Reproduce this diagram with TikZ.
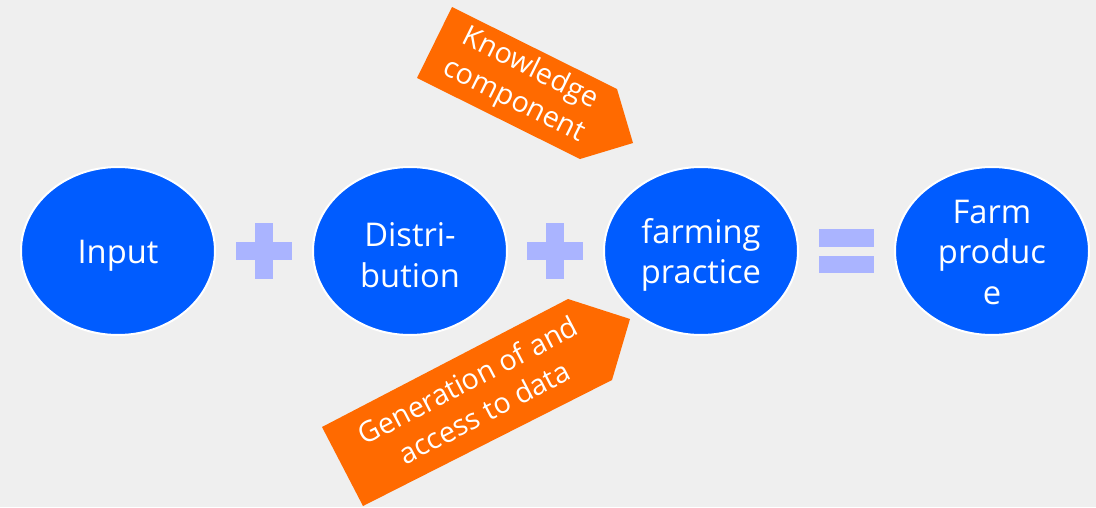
\documentclass[tikz,border=0pt]{standalone}
\usepackage{fontspec}
\setmainfont{Open Sans}
\usetikzlibrary{shapes.geometric}
\definecolor{bgc}{HTML}{EFEFEF}
\definecolor{blobc}{HTML}{005CFF}
\definecolor{opc}{HTML}{AAB4FF}
\definecolor{arrc}{HTML}{FF6A00}
\tikzset{
  blob/.style={ellipse, fill=blobc, draw=white, line width=1.5pt,
    minimum width=145.5pt, minimum height=126pt, inner sep=0pt},
  blobtext/.style={text=white, align=center, inner sep=0pt,
    font=\fontsize{24.5}{30.5}\selectfont},
  optext/.style={text=white, align=center, font=\fontsize{21.5}{27}\selectfont},
  opbar/.style={fill=opc}
}
\begin{document}
\begin{tikzpicture}[x=0.75pt,y=-0.75pt]
\fill[bgc] (0,0) rectangle (1096,507);
\useasboundingbox (0,0) rectangle (1096,507);
% ellipses
\node[blob] (input) at (118,251) {};
\node[blob] (dist) at (410,251) {};
\node[blob] (farm) at (701,251) {};
\node[blob] (prod) at (992,251) {};
\node[blobtext] (inputt) at ([yshift=-3.5pt]input.center) {Input};
\node[blobtext] (distt) at ([yshift=-3pt]dist.center) {Distri-\\bution};
\node[blobtext] (farmt) at ([yshift=-3pt]farm.center) {farming\\practice};
\node[blobtext] (prodt) at ([yshift=-1pt]prod.center) {Farm\\produc\\e};
% plus signs
\fill[opbar] (236,242) rectangle (292,260);
\fill[opbar] (255,223) rectangle (273,279);
\fill[opbar] (527,242) rectangle (583,260);
\fill[opbar] (546,223) rectangle (564,279);
% equals
\fill[opbar] (819,229) rectangle (874,247);
\fill[opbar] (819,256) rectangle (874,273);
% orange arrows
\fill[arrc] (452,7) -- (617,89) -- (633,143) -- (580,159) -- (417,78) -- cycle;
\node[optext, rotate=-26.4] (know) at (522,85) {Knowledge\\component};
\fill[arrc] (322,427) -- (568,299) -- (630,319) -- (612,380) -- (363,506) -- cycle;
\node[optext, rotate=27.5] (gen) at (476,396) {Generation of and\\access to data};
\end{tikzpicture}
\end{document}
